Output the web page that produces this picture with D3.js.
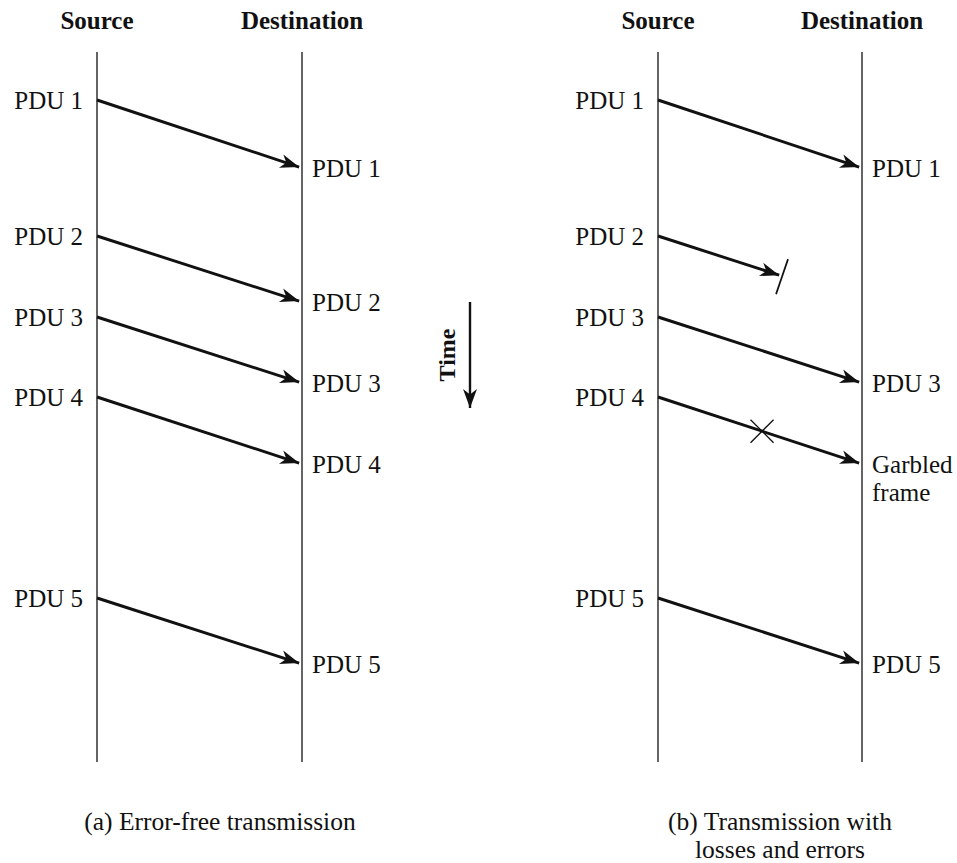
<!DOCTYPE html>
<html>
<head>
<meta charset="utf-8">
<script src="https://cdn.jsdelivr.net/npm/d3@7"></script>
<style>
  body { margin: 0; background: #fff; }
  svg { display: block; }
  text { font-family: "Liberation Serif", "Times New Roman", serif; fill: #111; }
</style>
</head>
<body>
<div id="chart"></div>
<script>
// data: time units along the vertical axis
const pduLabels = ["PDU 1", "PDU 2", "PDU 3", "PDU 4", "PDU 5"];
const sendTimes = [4.8, 18.4, 26.5, 34.5, 54.6];
const arriveTimes = [11.6, 25.0, 33.1, 41.2, 61.2];
const outcomesA = ["ok", "ok", "ok", "ok", "ok"];
const outcomesB = ["ok", "lost", "ok", "garbled", "ok"];
const lossFraction = 0.608;   // share of the path PDU 2 travels before it is lost
const errorFraction = 0.51;   // where PDU 4 gets hit
const garbledText = ["Garbled", "frame"];
const endpointTitles = ["Source", "Destination"];
const captionA = ["(a) Error-free transmission"];
const captionB = ["(b) Transmission with", "losses and errors"];
const timeSpan = [0, 71];
const timeArrowSpan = [25, 35.9];

const width = 957, height = 863;
const panels = [
    { src: 97, dst: 302, outcomes: outcomesA, caption: captionA, capX: 220 },
    { src: 658, dst: 862, outcomes: outcomesB, caption: captionB, capX: 780 }
];

const svg = d3.select('#chart').append('svg')
    .attr('width', width)
    .attr('height', height);

const defs = svg.append('defs');
defs.append('marker')
    .attr('id', 'head')
    .attr('viewBox', '-21 -9 22 18')
    .attr('markerUnits', 'userSpaceOnUse')
    .attr('markerWidth', 22)
    .attr('markerHeight', 18)
    .attr('refX', 0)
    .attr('refY', 0)
    .attr('orient', 'auto')
    .append('path')
    .attr('d', 'M0,0 L-19,-7 L-13.5,0 L-19,7 Z')
    .attr('fill', '#111');

const yScale = d3.scaleLinear().domain(timeSpan).range([52, 762]);

const rows = pduLabels.map((label, i) => ({ label, send: sendTimes[i], arrive: arriveTimes[i] }));

panels.forEach(p => {
    const xScale = d3.scaleLinear().domain([0, 1]).range([p.src, p.dst]);
    const g = svg.append('g');

    // lifelines
    g.selectAll('.lifeline')
        .data([0, 1])
        .enter()
        .append('line')
        .attr('class', 'lifeline')
        .attr('x1', d => xScale(d))
        .attr('x2', d => xScale(d))
        .attr('y1', yScale(timeSpan[0]))
        .attr('y2', yScale(timeSpan[1]))
        .attr('stroke', '#111')
        .attr('stroke-width', 1.3);

    g.selectAll('.title')
        .data(endpointTitles)
        .enter()
        .append('text')
        .attr('class', 'title')
        .attr('x', (d, i) => xScale(i))
        .attr('y', 29)
        .attr('text-anchor', 'middle')
        .style('font-size', '25px')
        .style('font-weight', 'bold')
        .text(d => d);

    const msgs = rows.map((r, i) => Object.assign({}, r, { outcome: p.outcomes[i] }));

    // arrows
    msgs.forEach(m => {
        const frac = m.outcome === 'lost' ? lossFraction : 1;
        const x1 = xScale(0), y1 = yScale(m.send);
        const x2 = xScale(frac), y2 = yScale(m.send + (m.arrive - m.send) * frac);
        const len = Math.hypot(x2 - x1, y2 - y1);
        const ux = (x2 - x1) / len, uy = (y2 - y1) / len;
        g.append('line')
            .attr('x1', x1).attr('y1', y1)
            .attr('x2', x2 - ux * 3).attr('y2', y2 - uy * 3)
            .attr('stroke', '#111')
            .attr('stroke-width', 2.9)
            .attr('marker-end', 'url(#head)');

        if (m.outcome === 'lost') {
            g.append('line')
                .attr('x1', x2 + 6).attr('y1', y2 - 17)
                .attr('x2', x2 - 6).attr('y2', y2 + 18)
                .attr('stroke', '#111')
                .attr('stroke-width', 1.7);
        }
        if (m.outcome === 'garbled') {
            const cx = xScale(errorFraction);
            const cy = yScale(m.send + (m.arrive - m.send) * errorFraction);
            [[-1, -1, 1, 1], [-1, 1, 1, -1]].forEach(s => {
                g.append('line')
                    .attr('x1', cx + s[0] * 11.5).attr('y1', cy + s[1] * 11.5)
                    .attr('x2', cx + s[2] * 11.5).attr('y2', cy + s[3] * 11.5)
                    .attr('stroke', '#111')
                    .attr('stroke-width', 1.3);
            });
        }
    });

    // labels
    g.selectAll('.src-label')
        .data(msgs)
        .enter()
        .append('text')
        .attr('class', 'src-label')
        .attr('x', xScale(0) - 14)
        .attr('y', d => yScale(d.send) + 9)
        .attr('text-anchor', 'end')
        .style('font-size', '25px')
        .text(d => d.label);

    g.selectAll('.dst-label')
        .data(msgs.filter(d => d.outcome !== 'lost'))
        .enter()
        .append('text')
        .attr('class', 'dst-label')
        .attr('x', xScale(1) + 10)
        .attr('y', d => yScale(d.arrive) + 9)
        .style('font-size', '25px')
        .each(function(d) {
            const t = d3.select(this);
            const lines = d.outcome === 'garbled' ? garbledText : [d.label];
            lines.forEach((s, i) => {
                t.append('tspan')
                    .attr('x', xScale(1) + 10)
                    .attr('dy', i === 0 ? 0 : 28)
                    .text(s);
            });
        });

    // caption
    g.append('text')
        .attr('x', p.capX)
        .attr('y', 830)
        .attr('text-anchor', 'middle')
        .style('font-size', '25.5px')
        .selectAll('tspan')
        .data(p.caption)
        .enter()
        .append('tspan')
        .attr('x', p.capX)
        .attr('dy', (d, i) => i === 0 ? 0 : 28)
        .text(d => d);
});

// time arrow between the panels
svg.append('line')
    .attr('x1', 470).attr('x2', 470)
    .attr('y1', yScale(timeArrowSpan[0]))
    .attr('y2', yScale(timeArrowSpan[1]) - 3)
    .attr('stroke', '#111')
    .attr('stroke-width', 2.4)
    .attr('marker-end', 'url(#head)');

svg.append('text')
    .attr('transform', `translate(455,${yScale(30.3)}) rotate(-90)`)
    .attr('text-anchor', 'middle')
    .style('font-size', '24px')
    .style('font-weight', 'bold')
    .text('Time');
</script>
</body>
</html>
